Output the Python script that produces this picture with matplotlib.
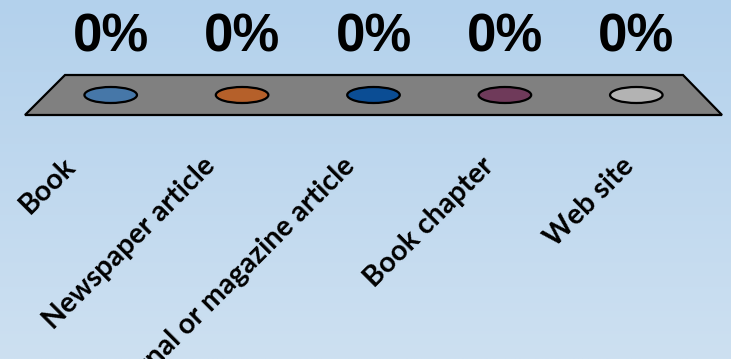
import numpy as np
import matplotlib
matplotlib.use("Agg")
import matplotlib.pyplot as plt
from matplotlib.patches import Polygon, Ellipse
from matplotlib.transforms import ScaledTranslation

categories = ["Book", "Newspaper article", "Journal or magazine article",
              "Book chapter", "Web site"]
values = [0, 0, 0, 0, 0]
colors = ["#4677a8", "#b5602a", "#0b4d94", "#6f3a5a", "#b3b3b3"]

W, H = 731, 359
fig = plt.figure(figsize=(W / 100, H / 100), dpi=100)

# background + floor, pixel coords
bg = fig.add_axes([0, 0, 1, 1])
bg.set_xlim(0, W)
bg.set_ylim(H, 0)
bg.axis("off")
top = np.array([0xb3, 0xd1, 0xec]) / 255
bot = np.array([0xcd, 0xe0, 0xf1]) / 255
t = np.linspace(0, 1, 256)[:, None, None]
grad = top * (1 - t) + bot * t
bg.imshow(np.repeat(grad, 2, axis=1), extent=[0, W, H, 0], aspect="auto")
bg.add_patch(Polygon([[65, 75], [683, 75], [722, 115], [25, 115]],
                     closed=True, facecolor="#808080", edgecolor="black", lw=1.6))

# data axes along the middle of the floor
ax = fig.add_axes([45 / W, (H - 115) / H, 657 / W, 40 / H])
ax.set_xlim(-0.5, len(categories) - 0.5)
ax.set_ylim(-1, 1)
ax.axis("off")
for i, (v, c) in enumerate(zip(values, colors)):
    ax.add_patch(Ellipse((i, v), 0.40, 0.8, facecolor=c, edgecolor="black", lw=1.6))
    ax.annotate(f"{v:.0%}", (i, v), xytext=(0, 44), textcoords="offset pixels",
                ha="center", va="baseline", fontsize=38, fontweight="bold",
                family="Liberation Sans")

# category labels along the front edge of the floor
lab = fig.add_axes([25 / W, (H - 115) / H, 697 / W, 0.001])
lab.set_xlim(-0.5, len(categories) - 0.5)
lab.set_yticks([])
for s in lab.spines.values():
    s.set_visible(False)
lab.patch.set_visible(False)
lab.set_xticks(range(len(categories)))
lab.set_xticklabels(categories, rotation=45, ha="right", rotation_mode="anchor",
                    fontsize=20.5, fontweight="bold", family="Lato")
lab.tick_params(axis="x", length=0, pad=27)
shift = ScaledTranslation(-32 / 100, 0, fig.dpi_scale_trans)
for tl in lab.get_xticklabels():
    tl.set_transform(tl.get_transform() + shift)

fig.savefig("out.png", dpi=100)
